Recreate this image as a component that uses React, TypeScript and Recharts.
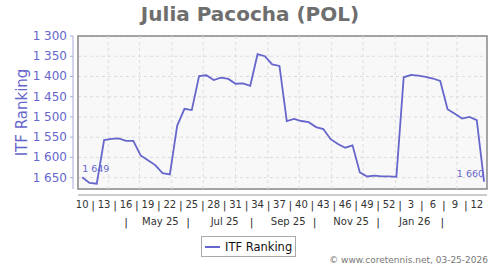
import React from 'react';
import * as R from 'recharts';

const { LineChart, Line, XAxis, YAxis, CartesianGrid, ReferenceLine, Legend } = R;

// weekly ITF ranking, week 10/2025 .. week 13/2026
const rankings = [
  1649, 1663, 1665, 1557, 1554, 1553, 1559, 1559, 1595, 1607, 1619, 1639, 1642,
  1522, 1480, 1483, 1399, 1397, 1409, 1403, 1406, 1418, 1417, 1423, 1345, 1350,
  1370, 1374, 1510, 1505, 1510, 1513, 1525, 1530, 1555, 1567, 1576, 1570, 1637,
  1647, 1645, 1647, 1647, 1648, 1402, 1396, 1398, 1401, 1405, 1411, 1481, 1492,
  1504, 1500, 1508, 1660,
];

const weekLabels = ['10', '13', '16', '19', '22', '25', '28', '31', '34', '37', '40', '43', '46', '49', '52', '3', '6', '9', '12'];

const monthLabels = ['May 25', 'Jul 25', 'Sep 25', 'Nov 25', 'Jan 26'];
const monthLabelPos = [10.7, 19.5, 28.2, 36.8, 45.5];
const monthSepPos = [6.0, 14.5, 23.2, 31.8, 40.5, 49.3];

const firstDate = '2025-03-07';
const monthStarts = [
  '2025-04-01', '2025-05-01', '2025-06-01', '2025-07-01', '2025-08-01', '2025-09-01',
  '2025-10-01', '2025-11-01', '2025-12-01', '2026-01-01', '2026-02-01', '2026-03-01',
];

const yTicks = [1300, 1350, 1400, 1450, 1500, 1550, 1600, 1650];

const data = rankings.map((rank, i) => ({ x: i, rank }));
const gridPos = monthStarts.map(
  (d) => (Date.parse(d) - Date.parse(firstDate)) / (7 * 86400000)
);
const weekTicks: number[] = [];
weekLabels.forEach((_, k) => {
  weekTicks.push(k * 3);
  if (k < weekLabels.length - 1) weekTicks.push(k * 3 + 1.5);
});
const monthTicks = [...monthSepPos, ...monthLabelPos].sort((a, b) => a - b);

const X_DOMAIN: [number, number] = [-0.57, 55.4];
const BLUE = '#6666cc';
const FONT = '"DejaVu Sans", sans-serif';

const fmt = (v: number) => `${Math.floor(v / 1000)} ${String(v % 1000).padStart(3, '0')}`;

const usePlot: () => any = (R as any).usePlotArea ?? (() => null);

function Decor() {
  const area = usePlot();
  if (!area) return null;
  const { x, y, width, height } = area;
  return (
    <g>
      <rect x={x} y={y} width={width} height={height} fill="none" stroke="#888" strokeWidth={1.5} />
      <line x1={x - 5} x2={x - 5} y1={y} y2={y + height} stroke="#aaaadd" />
      <line x1={x} x2={x + width} y1={y + height + 6} y2={y + height + 6} stroke="#999" />
      <text x={250} y={21} textAnchor="middle" fontSize={20} fontWeight="bold" fill="#6e6e6e" fontFamily={FONT}>
        Julia Pacocha (POL)
      </text>
      <text
        transform={`translate(27, ${y + height / 2}) rotate(-90)`}
        textAnchor="middle"
        fontSize={15}
        fill={BLUE}
        fontFamily={FONT}
      >
        ITF Ranking
      </text>
      <text x={488} y={263} textAnchor="end" fontSize={9} fill="#777" fontFamily={FONT}>
        © www.coretennis.net, 03-25-2026
      </text>
    </g>
  );
}

const YTick = (props: any) => {
  const { x, y, payload } = props;
  return (
    <g>
      <line x1={x + 3} x2={x + 6} y1={y} y2={y} stroke="#aaaadd" />
      <text x={x} y={y} dy={4} textAnchor="end" fontSize={12} fill={BLUE} fontFamily={FONT}>
        {fmt(payload.value)}
      </text>
    </g>
  );
};

const WeekTick = (props: any) => {
  const { x, y, payload } = props;
  const v = payload.value;
  const k = Math.round(v / 3);
  const isLabel = Math.abs(v - k * 3) < 0.01;
  return (
    <text x={x} y={y} dy={isLabel ? 19 : 20} textAnchor="middle" fontSize={isLabel ? 10 : 11} fill="#333" fontFamily={FONT}>
      {isLabel ? weekLabels[k] : '|'}
    </text>
  );
};

const MonthTick = (props: any) => {
  const { x, y, payload } = props;
  const idx = monthLabelPos.indexOf(payload.value);
  return (
    <text x={x} y={y} dy={idx >= 0 ? 17.5 : 18.5} textAnchor="middle" fontSize={idx >= 0 ? 10 : 11} fill="#333" fontFamily={FONT}>
      {idx >= 0 ? monthLabels[idx] : '|'}
    </text>
  );
};

const EndLabel = (props: any) => {
  const vb = props.viewBox || {};
  const px = props.x ?? vb.x;
  const py = props.y ?? vb.y;
  const { index, value } = props;
  if (index !== 0 && index !== rankings.length - 1) return null;
  return (
    <text
      x={px}
      y={py - 5}
      textAnchor={index === 0 ? 'start' : 'end'}
      fontSize={9.5}
      fill={BLUE}
      fontFamily={FONT}
    >
      {fmt(value)}
    </text>
  );
};

const LegendBox = () => (
  <div
    style={{
      boxSizing: 'border-box',
      width: 95,
      height: 21,
      border: '1px solid #aaa',
      background: '#fff',
      display: 'flex',
      alignItems: 'center',
      whiteSpace: 'nowrap',
      fontFamily: FONT,
      fontSize: 11.5,
      color: '#111',
    }}
  >
    <span style={{ display: 'inline-block', flex: 'none', width: 15, height: 0, borderTop: `2px solid ${BLUE}`, margin: '0 5px 0 3px' }} />
    <span>ITF Ranking</span>
  </div>
);

export default function App() {
  return (
    <div style={{ position: 'absolute', left: 0, top: 0, width: 500, height: 270, background: '#fff' }}>
      <LineChart width={500} height={270} data={data} margin={{ top: 36, right: 13, left: 0, bottom: 43 }}>
        <CartesianGrid
          xAxisId="a"
          vertical={false}
          stroke="#dcdcdc"
          strokeDasharray="3 3"
          fill="#f8f8f8"
        />
        {gridPos.map((p) => (
          <ReferenceLine key={p} x={p} xAxisId="a" stroke="#dcdcdc" strokeDasharray="3 3" />
        ))}
        <XAxis
          xAxisId="b"
          dataKey="x"
          type="number"
          domain={X_DOMAIN}
          allowDataOverflow
          ticks={monthTicks}
          interval={0}
          height={20}
          axisLine={false}
          tickLine={false}
          tickSize={0}
          tickMargin={0}
          tick={<MonthTick />}
        />
        <XAxis
          xAxisId="a"
          dataKey="x"
          type="number"
          domain={X_DOMAIN}
          allowDataOverflow
          ticks={weekTicks}
          interval={0}
          height={18}
          axisLine={false}
          tickLine={false}
          tickSize={0}
          tickMargin={0}
          tick={<WeekTick />}
        />
        <YAxis
          width={78}
          reversed
          domain={[1300, 1678]}
          allowDataOverflow
          ticks={yTicks}
          interval={0}
          axisLine={false}
          tickLine={false}
          tickSize={0}
          tickMargin={11}
          tick={<YTick />}
        />
        <Line
          xAxisId="a"
          dataKey="rank"
          name="ITF Ranking"
          type="linear"
          stroke={BLUE}
          strokeWidth={1.8}
          dot={false}
          isAnimationActive={false}
          label={<EndLabel />}
        />
        <Legend
          verticalAlign="middle"
          align="center"
          layout="horizontal"
          wrapperStyle={{ left: 201, top: 236, width: 95, height: 21 }}
          content={<LegendBox />}
        />
        <Decor />
      </LineChart>
    </div>
  );
}
